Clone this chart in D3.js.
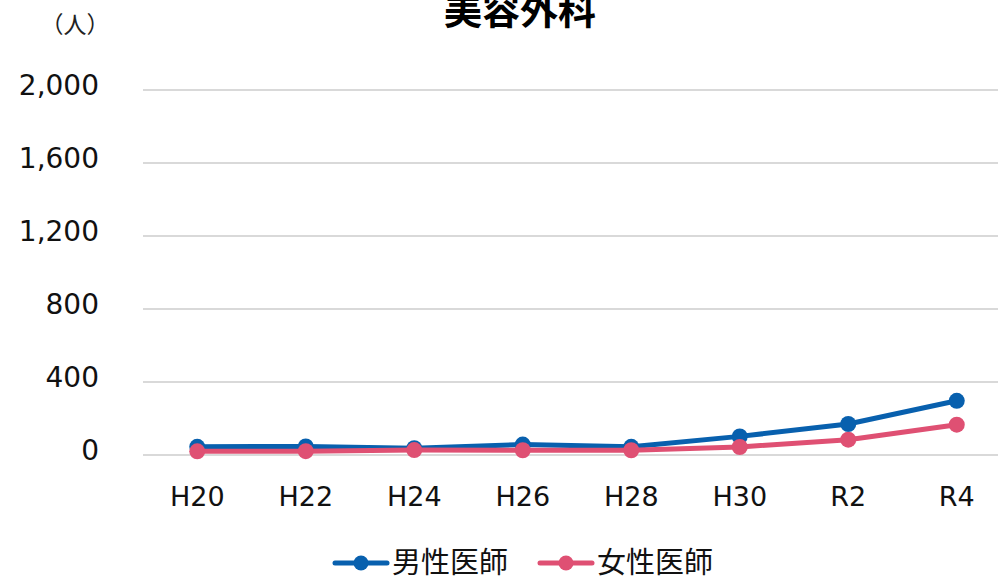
<!DOCTYPE html>
<html><head><meta charset="utf-8">
<script src="https://cdn.jsdelivr.net/npm/d3@7"></script>
<style>body{margin:0;background:#fff}svg{display:block}</style>
</head><body><svg id="c" width="998" height="576"></svg>
<script>
const categories = ["H20","H22","H24","H26","H28","H30","R2","R4"];
const maleValues = [45, 47, 37, 57, 45, 102, 170, 297];
const femaleValues = [20, 21, 27, 26, 26, 44, 84, 166];
const yTicks = [0, 400, 800, 1200, 1600, 2000];
const seriesNames = ["男性医師", "女性医師"];
const title = "美容外科";
const unitLabel = "（人）";

const svg = d3.select("#c");
const numFont = "'DejaVu Sans', Verdana, sans-serif";
const cjkFont = "'Noto Sans CJK JP', sans-serif";
const colors = ["#0860AE", "#DF5073"];

const x = d3.scaleBand().domain(categories).range([143, 1011]);
const y = d3.scaleLinear().domain([0, 2000]).range([455, 90]);

// gridlines
svg.append("g").selectAll("line").data(yTicks).join("line")
  .attr("x1", 143).attr("x2", 998)
  .attr("y1", d => y(d)).attr("y2", d => y(d))
  .attr("stroke", "#d9d9d9").attr("stroke-width", 2);

// y axis labels
const yAxis = d3.axisLeft(y).tickValues(yTicks).tickFormat(d3.format(",")).tickSize(0).tickPadding(0);
const gy = svg.append("g").attr("transform", "translate(99,0)").call(yAxis);
gy.select(".domain").remove();
gy.selectAll("text").attr("font-family", numFont).attr("font-size", 28).attr("fill", "#111").attr("dy", "0.17em");

// x axis labels
const xAxis = d3.axisBottom(x).tickSize(0).tickPadding(0);
const gx = svg.append("g").attr("transform", "translate(0,487)").call(xAxis);
gx.select(".domain").remove();
gx.selectAll("text").attr("font-family", numFont).attr("font-size", 27).attr("fill", "#111").attr("dy", "0.71em");

// lines
const series = [maleValues, femaleValues];
const line = d3.line().x((d, i) => x(categories[i]) + x.bandwidth() / 2).y(d => y(d));
series.forEach((vals, si) => {
  svg.append("path").attr("d", line(vals)).attr("fill", "none")
    .attr("stroke", colors[si]).attr("stroke-width", 5).attr("stroke-linejoin", "round");
  svg.append("g").selectAll("circle").data(vals).join("circle")
    .attr("cx", (d, i) => x(categories[i]) + x.bandwidth() / 2)
    .attr("cy", d => y(d)).attr("r", 8).attr("fill", colors[si]);
});

// title
svg.append("text").attr("x", 520).attr("y", 24).attr("text-anchor", "middle")
  .attr("font-family", cjkFont).attr("font-weight", "bold").attr("font-size", 38).attr("fill", "#000").text(title);
svg.append("text").attr("x", 75).attr("y", 33).attr("text-anchor", "middle")
  .attr("font-family", cjkFont).attr("font-size", 23).attr("fill", "#222").text(unitLabel);

// legend
const legendX = [333, 538];
seriesNames.forEach((name, i) => {
  const g = svg.append("g").attr("transform", `translate(${legendX[i]},563)`);
  g.append("line").attr("x1", 2).attr("x2", 54).attr("y1", 0).attr("y2", 0)
    .attr("stroke", colors[i]).attr("stroke-width", 5).attr("stroke-linecap", "round");
  g.append("circle").attr("cx", 28).attr("cy", 0).attr("r", 7.5).attr("fill", colors[i]);
  g.append("text").attr("x", 59).attr("y", 0).attr("dy", "0.36em")
    .attr("font-family", cjkFont).attr("font-size", 29).attr("fill", "#111").text(name);
});
</script></body></html>
